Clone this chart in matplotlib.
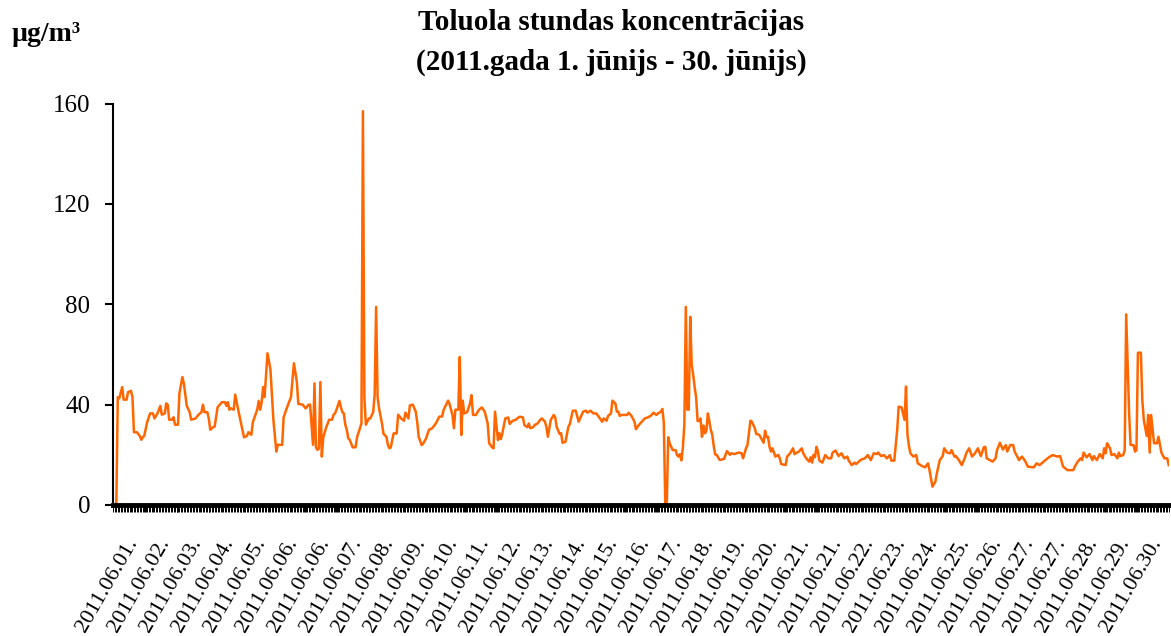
import matplotlib
matplotlib.use("Agg")
import matplotlib.pyplot as plt
import matplotlib.transforms as mtransforms
import numpy as np

# hourly toluene readings (hour index from 2011.06.01 00:00, ug/m3)
hours = [0, 1, 2, 3, 4, 6, 7, 9, 10, 12, 13, 14, 16, 18, 19, 20, 21, 23, 25, 27, 28, 30, 32, 33, 35, 36, 37, 38, 40, 41, 42, 44, 45, 47, 48, 50,
         52, 53, 56, 58, 60, 61, 62, 64, 65, 66, 68, 69, 71, 74, 76, 77, 78, 79, 80, 82, 83, 85, 87, 89, 91, 92, 94, 95, 98, 99, 100,
         101, 102, 103, 105, 107, 109, 111, 112, 115, 116, 119, 121, 123, 125, 126, 129, 131, 133, 134, 136, 137, 138, 139, 140, 141,
         142, 143, 145, 147, 149, 150, 151, 152, 154, 155, 156, 157, 158, 159, 160, 161, 163, 165, 166, 168, 169, 170, 171, 172, 174,
         175, 177, 178, 179, 180, 181, 183, 184, 186, 187, 188, 189, 190, 191, 193, 194, 196, 198, 199, 201, 202, 204, 206, 207, 208,
         210, 211, 213, 215, 217, 218, 220, 222, 224, 225, 227, 228, 229, 231, 232, 233, 235, 236, 237, 238, 239, 241, 243, 244, 245,
         247, 249, 251, 253, 255, 256, 258, 259, 260, 262, 263, 264, 265, 267, 269, 270, 272, 274, 276, 277, 279, 280, 282, 283, 284,
         286, 287, 289, 291, 292, 294, 295, 296, 298, 300, 301, 302, 304, 305, 306, 308, 310, 311, 313, 315, 317, 318, 320, 322, 323,
         325, 327, 329, 331, 333, 334, 336, 337, 339, 340, 342, 343, 344, 345, 346, 348, 350, 351, 353, 355, 356, 358, 360, 362, 364,
         366, 368, 370, 371, 373, 374, 375, 376, 377, 378, 379, 381, 383, 384, 385, 386, 387, 388, 389, 390, 391, 392, 393, 394, 395,
         396, 397, 398, 399, 400, 401, 402, 403, 404, 405, 406, 407, 408, 409, 410, 411, 413, 414, 415, 416, 418, 420, 421, 423, 426,
         428, 429, 431, 432, 434, 435, 437, 438, 440, 442, 443, 444, 445, 446, 447, 448, 449, 451, 453, 454, 455, 458, 459, 461, 463,
         464, 467, 469, 470, 472, 474, 475, 476, 477, 478, 479, 480, 481, 483, 485, 487, 489, 490, 492, 494, 496, 498, 500, 501, 503,
         505, 506, 509, 510, 512, 514, 516, 518, 520, 521, 523, 525, 527, 529, 530, 532, 534, 535, 537, 539, 540, 541, 542, 543, 545,
         547, 548, 551, 553, 555, 556, 558, 560, 561, 562, 563, 565, 566, 568, 570, 571, 573, 574, 576, 578, 580, 581, 583, 585, 587,
         589, 591, 593, 594, 595, 597, 599, 601, 602, 604, 606, 608, 609, 611, 613, 614, 617, 619, 621, 623, 627, 629, 631, 635, 638,
         640, 643, 645, 647, 650, 652, 654, 655, 657, 659, 660, 661, 663, 665, 667, 668, 670, 672, 674, 675, 676, 677, 679, 680, 682,
         684, 685, 686, 688, 689, 690, 692, 693, 695, 696, 697, 698, 700, 701, 702, 704, 705, 706, 707, 709, 711, 712, 714, 716, 718,
         719]
toluene = [0, 0, 0, 43, 42.5, 47, 42, 42, 45, 45.5, 43, 29, 29, 27.5, 26, 27, 27.5, 33, 36.5, 36.5, 34.5, 36.5, 39.5, 36, 36.5, 40.5, 40,
           34, 34, 35, 32, 32, 44.5, 51, 48.5, 39.5, 37, 34, 34.5, 36, 37, 40, 37, 37, 34.5, 30, 31, 31.3, 39, 41, 41, 39.5, 41, 38, 38.5,
           38, 44, 38, 32.5, 27, 27.5, 29, 28, 33, 38, 41.5, 38, 41, 47, 43, 60.5, 54, 34, 21.3, 24, 24, 35, 40, 43, 56.5, 49, 40.3, 40,
           38.5, 40, 40, 24, 48.5, 23, 22, 22.5, 49, 19.3, 27, 31, 34, 34, 36, 36.5, 38, 41.5, 39, 37, 36.5, 32, 30, 26.6, 26, 23, 23,
           27, 30.6, 32.5, 157, 43, 32, 34.5, 34.5, 37, 44, 79, 43, 38.5, 32.5, 28.4, 27.2, 24, 22.6, 23, 26, 28.6, 28.5, 36, 34.5,
           33.6, 36.8, 34.5, 39.7, 40, 37.2, 33, 27.2, 23.9, 24.4, 26.5, 30, 30.5, 31.2, 32.8, 35.2, 35.3, 37.9, 40.3, 41.6, 40.3,
           35.9, 30.6, 38, 38, 59, 27.9, 41.6, 36.5, 37, 40.5, 43.8, 35.9, 35.9, 37.9, 38.9, 37.2, 32.5, 24.6, 23, 22.6, 37.2, 25.9,
           28.6, 26.3, 28.6, 34.5, 34.9, 32.3, 33.6, 33.9, 34.9, 35.2, 34.9, 31.9, 31, 32.5, 30.6, 31, 31.9, 32.5, 34.1, 34.5, 33.2,
           31.2, 27.2, 33.9, 35.9, 35, 31.2, 28.3, 28.6, 24.8, 25.2, 31.2, 32.3, 37.6, 37.6, 33.2, 34.5, 37.2, 37.6, 36.8, 37.6, 36.5,
           36.5, 34.9, 33.2, 34.5, 33.6, 35.5, 36.5, 41.6, 40.5, 37.2, 37.2, 35.5, 35.9, 35.9, 35.9, 36.8, 35.5, 33.2, 30.2, 31.9,
           33.2, 34.5, 34.9, 35.5, 36.8, 35.9, 36.5, 37.2, 38.3, 33, 0, 0, 27, 24.6, 21.9, 21.9, 19.9, 19.3, 20.3, 17.8, 23, 32, 79,
           38, 38, 75, 56, 52, 47, 43, 33.5, 33.5, 34.5, 27.2, 31.7, 28.6, 29.5, 36.5, 33.5, 30, 28, 23.5, 20.1, 20, 18, 18, 18.3,
           18.3, 21.5, 20, 20.6, 20.3, 20.9, 20.6, 18.6, 22.6, 23.9, 33.6, 33.2, 30.6, 28.3, 28, 25.9, 24.8, 29.6, 27, 27.2, 23.2,
           21.3, 22.6, 19.3, 20, 18.6, 16.3, 15.9, 19.3, 20.6, 22.6, 20.3, 21.3, 22.6, 20.6, 18.6, 17.3, 19, 16.9, 20, 19, 23.2, 21.3,
           17.7, 16.9, 19.9, 18.6, 18.6, 20.9, 21.7, 19.5, 20.6, 18.6, 19.3, 17.7, 15.9, 16.9, 16.3, 17.9, 18.2, 18.6, 19.9, 17.9,
           20.6, 20.3, 20.9, 19.5, 19.9, 18.6, 19.9, 17.7, 17.7, 29.9, 39.2, 38.9, 33.9, 47.2, 28, 23.5, 20.6, 19.3, 19.9, 16.6, 15.5,
           15, 16.6, 13.9, 7.3, 9.3, 12.6, 15.3, 17.9, 19.5, 22.6, 20.9, 20.6, 21.9, 19.3, 19.5, 17.9, 15.9, 18.6, 20.6, 22.6, 19.3,
           20.6, 22.6, 19.5, 23, 23.2, 18.6, 17.9, 17.3, 18.6, 21.9, 24.8, 22.1, 23.9, 21.3, 23.9, 23.9, 21.3, 17.9, 19.3, 17.7, 15.3,
           15, 16.6, 15.9, 17.9, 19.3, 19.9, 19.3, 19.5, 15.3, 13.9, 13.9, 13.9, 15.3, 17.3, 18.6, 17.9, 20.9, 19, 20.3, 17.9, 19.5,
           17.9, 20.3, 18.6, 22.6, 20.6, 24.6, 22.6, 19.9, 20.3, 18.6, 20.9, 19.5, 19.9, 21.9, 76, 36.5, 23.9, 23.9, 21.3, 21.9, 60.7,
           60.7, 41.8, 33.9, 27.5, 35.9, 20.9, 35.9, 24.6, 24.6, 27.2, 20.9, 18.6, 18.6, 15.9]

n_hours = 720
day_labels = ["01", "02", "03", "04", "05", "06", "06", "07", "08", "09", "10", "11", "12", "13", "14", "15", "16",
              "17", "18", "19", "20", "21", "21", "22", "23", "24", "25", "26", "27", "27", "28", "29", "30"]
x_labels = ["2011.06." + d + "." for d in day_labels]
label_step = 21.8
y_ticks = [0, 40, 80, 120, 160]

plt.rcParams['font.family'] = ['Liberation Serif', 'DejaVu Serif']

fig = plt.figure(figsize=(11.71, 6.36), dpi=100)
ax = fig.add_axes([0.0962, 0.206, 0.9025, 0.631])

ax.plot(hours, toluene, color='#FF6600', linewidth=1.8, solid_joinstyle='round')

ax.set_xlim(-0.5, n_hours - 0.5)
ax.set_ylim(0, 160)
ax.set_yticks(y_ticks)
ax.tick_params(axis='y', labelsize=18, length=6, width=1.5, pad=10, direction='out')

ax.set_xticks(np.arange(len(x_labels)) * label_step)
ax.set_xticklabels(x_labels, rotation=60, ha='right', va='center', rotation_mode='anchor', fontsize=16)
ax.set_xticks(np.arange(n_hours), minor=True)
ax.tick_params(axis='x', which='minor', length=5, width=0.7, direction='out')
ax.tick_params(axis='x', which='major', length=5, width=0.7, direction='out', pad=20)

shift = mtransforms.ScaledTranslation(0.2, 0, fig.dpi_scale_trans)
for lab in ax.get_xticklabels():
    lab.set_transform(lab.get_transform() + shift)

ax.spines['top'].set_visible(False)
ax.spines['right'].set_visible(False)
ax.spines['left'].set_linewidth(1.5)
ax.spines['bottom'].set_linewidth(3.5)

fig.text(0.522, 0.964, 'Toluola stundas koncentrācijas',
         ha='center', va='center', fontsize=21, fontweight='bold')
fig.text(0.522, 0.902, '(2011.gada 1. jūnijs - 30. jūnijs)',
         ha='center', va='center', fontsize=21, fontweight='bold')
fig.text(0.010, 0.945, 'µg/m³', ha='left', va='center', fontsize=20, fontweight='bold')

fig.savefig('out.png', dpi=100)
